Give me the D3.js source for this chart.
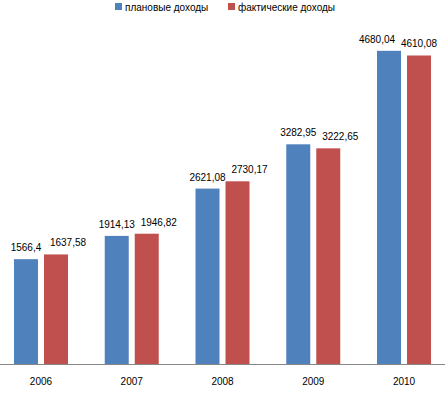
<!DOCTYPE html>
<html>
<head>
<meta charset="utf-8">
<script src="https://cdn.jsdelivr.net/npm/d3@7"></script>
<style>
  body { margin: 0; background: #fff; }
  text { font-family: "Liberation Sans", Arial, sans-serif; font-size: 10px; fill: #000; }
</style>
</head>
<body>
<div id="chart"></div>
<script>
const years = ["2006", "2007", "2008", "2009", "2010"];
const seriesNames = ["плановые доходы", "фактические доходы"];
const planned = [1566.4, 1914.13, 2621.08, 3282.95, 4680.04];
const actual = [1637.58, 1946.82, 2730.17, 3222.65, 4610.08];
const colors = ["#4F81BD", "#C0504D"];

const width = 445;
const height = 393;
const baseline = 364;

const svg = d3.select("#chart")
    .append("svg")
    .attr("width", width)
    .attr("height", height)
    .attr("viewBox", [0, 0, width, height]);

const x = d3.scaleBand()
    .domain(years)
    .range([-4.4, 449.4])
    .paddingInner(0)
    .paddingOuter(0);

const inner = d3.scaleBand()
    .domain([0, 1])
    .range([x.bandwidth() / 2 - 27, x.bandwidth() / 2 + 27])
    .paddingInner(0.2);

const y = d3.scaleLinear()
    .domain([0, 5000])
    .range([baseline, baseline - 334.6]);

const rows = years.map((yr, i) => ({ year: yr, values: [planned[i], actual[i]] }));

// bars
const groups = svg.append("g")
    .selectAll("g")
    .data(rows)
    .join("g")
    .attr("transform", (d) => `translate(${x(d.year)},0)`);

groups.selectAll("rect")
    .data((d) => d.values.map((v, k) => ({ k, v })))
    .join("rect")
    .attr("x", (d) => inner(d.k))
    .attr("width", inner.bandwidth())
    .attr("y", (d) => y(d.v))
    .attr("height", (d) => y(0) - y(d.v))
    .attr("fill", (d) => colors[d.k]);

// value labels: labels are pushed apart so they don't overlap,
// to the right normally, to the left when near the right edge
const fmt = (v) => String(v).replace(".", ",");
groups.each(function (row) {
    const g = d3.select(this);
    const gx = x(row.year);
    const nearEdge = gx + inner(1) + inner.bandwidth() / 2 + 12 + 19 > width;
    const shift = nearEdge ? [-12, 0] : [0, 12];
    g.selectAll("text.val")
        .data(row.values.map((v, k) => ({ k, v })))
        .join("text")
        .attr("class", "val")
        .attr("text-anchor", "middle")
        .attr("x", (d) => inner(d.k) + inner.bandwidth() / 2 + shift[d.k])
        .attr("y", (d) => y(d.v) - 8)
        .text((d) => fmt(d.v));
});

// x axis
const axis = svg.append("g")
    .attr("transform", `translate(0,${baseline})`)
    .call(d3.axisBottom(x).tickSize(0).tickPadding(14));
axis.select(".domain").remove();
axis.selectAll("text")
    .attr("font-family", null)
    .attr("font-size", null);
svg.append("line")
    .attr("x1", 0)
    .attr("x2", width)
    .attr("y1", baseline + 0.5)
    .attr("y2", baseline + 0.5)
    .attr("stroke", "#868686");

// legend
const legendX = [115, 228];
const legend = svg.append("g")
    .selectAll("g")
    .data(seriesNames)
    .join("g")
    .attr("transform", (d, i) => `translate(${legendX[i]},3)`);
legend.append("rect")
    .attr("width", 7)
    .attr("height", 7)
    .attr("fill", (d, i) => colors[i]);
legend.append("text")
    .attr("x", 10)
    .attr("y", 7.5)
    .text((d) => d);
</script>
</body>
</html>
